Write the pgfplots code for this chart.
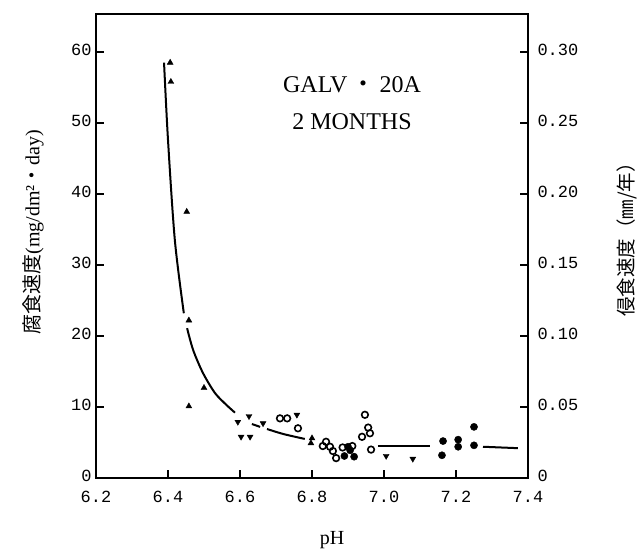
\documentclass[border=0pt]{standalone}
\usepackage{fontspec}
\setmainfont{Liberation Serif}
\setmonofont{Liberation Mono}
\newfontfamily\cjk{Noto Sans CJK JP}
\usepackage{pgfplots}
\pgfplotsset{compat=1.18}
\begin{document}
\begin{tikzpicture}
\useasboundingbox (0,0) rectangle (638pt,553pt);
\begin{axis}[
  at={(96pt,75pt)}, anchor=south west,
  scale only axis, width=432pt, height=464pt,
  xmin=6.2, xmax=7.4, ymin=0, ymax=65.35,
  axis line style={line width=1.4pt},
  tick pos=left, tick align=inside,
  major tick length=8pt,
  tick style={line width=1.3pt, black},
  xtick={6.2,6.4,6.6,6.8,7.0,7.2,7.4},
  xticklabels={6.2,6.4,6.6,6.8,7.0,7.2,7.4},
  ytick={0,10,20,30,40,50,60},
  yticklabels={0,10,20,30,40,50,60},
  ticklabel style={font=\ttfamily\fontsize{17}{17}\selectfont},
  xticklabel style={yshift=-10pt},
  yticklabel style={xshift=-1pt, yshift=2pt},
  clip=false,
]
% curve segments
\addplot[smooth, line width=2pt] coordinates {(6.389,58.5) (6.4,47.6) (6.419,33.5) (6.444,23.2)};
\addplot[smooth, line width=2pt] coordinates {(6.453,21.1) (6.47,18.0) (6.497,14.8) (6.53,12.0) (6.56,10.4) (6.586,9.2)};
\addplot[line width=2pt] coordinates {(6.633,7.6) (6.656,7.2)};
\addplot[smooth, line width=2pt] coordinates {(6.675,6.9) (6.72,6.2) (6.78,5.5)};
\addplot[line width=2pt] coordinates {(6.983,4.5) (7.128,4.5)};
\addplot[line width=2pt] coordinates {(7.275,4.4) (7.372,4.2)};
% triangles up
\addplot[only marks, mark=triangle*, mark size=3.4pt, black] coordinates {
 (6.406,58.5) (6.408,55.8) (6.452,37.5) (6.458,22.2) (6.5,12.7) (6.458,10.1) (6.80,5.6) (6.797,4.9)};
% triangles down
\addplot[only marks, mark=triangle*, mark size=3.4pt, black, mark options={rotate=180}] coordinates {
 (6.594,7.9) (6.625,8.7) (6.664,7.7) (6.603,5.8) (6.628,5.8) (6.758,8.9) (7.006,3.1) (7.08,2.7)};
% open circles
\addplot[only marks, mark=o, mark size=3.3pt, mark options={line width=1.6pt}, black] coordinates {
 (6.711,8.4) (6.731,8.4) (6.761,7.0)
 (6.83,4.5) (6.839,5.1) (6.85,4.4) (6.858,3.8) (6.867,2.8)
 (6.885,4.3) (6.912,4.5)
 (6.947,8.9) (6.956,7.1) (6.961,6.3) (6.939,5.8) (6.964,4.0)};
% filled circles
\addplot[only marks, mark=*, mark size=3.6pt, black] coordinates {
 (6.9,4.4) (6.906,3.9) (6.917,3.0) (6.89,3.1)
 (7.164,5.2) (7.161,3.2) (7.206,5.4) (7.206,4.4) (7.25,7.2) (7.25,4.6)};
\end{axis}
\begin{axis}[
  at={(96pt,75pt)}, anchor=south west,
  scale only axis, width=432pt, height=464pt,
  xmin=6.2, xmax=7.4, ymin=0, ymax=0.32675,
  axis x line=none, axis y line*=right,
  axis line style={line width=1.4pt},
  tick align=inside, major tick length=8pt,
  tick style={line width=1.3pt, black},
  ytick={0,0.05,0.10,0.15,0.20,0.25,0.30},
  yticklabels={0,0.05,0.10,0.15,0.20,0.25,0.30},
  yticklabel style={font=\ttfamily\fontsize{17}{17}\selectfont, xshift=6pt, yshift=2pt},
]
\end{axis}
\node[font=\fontsize{24}{26}\selectfont] at (352pt,468pt) {GALV\,{\cjk ・}\,20A};
\node[font=\fontsize{24}{26}\selectfont] at (352pt,431pt) {2 MONTHS};
\node[rotate=90, font=\fontsize{20}{22}\selectfont] at (33pt,321pt) {{\cjk 腐食速度}(mg/dm²{\cjk ・}day)};
\node[rotate=90, font=\fontsize{19.5}{22}\selectfont] at (627pt,318pt) {\cjk 侵食速度（㎜/年）};
\node[font=\fontsize{20}{22}\selectfont] at (332pt,13pt) {pH};
\end{tikzpicture}
\end{document}
